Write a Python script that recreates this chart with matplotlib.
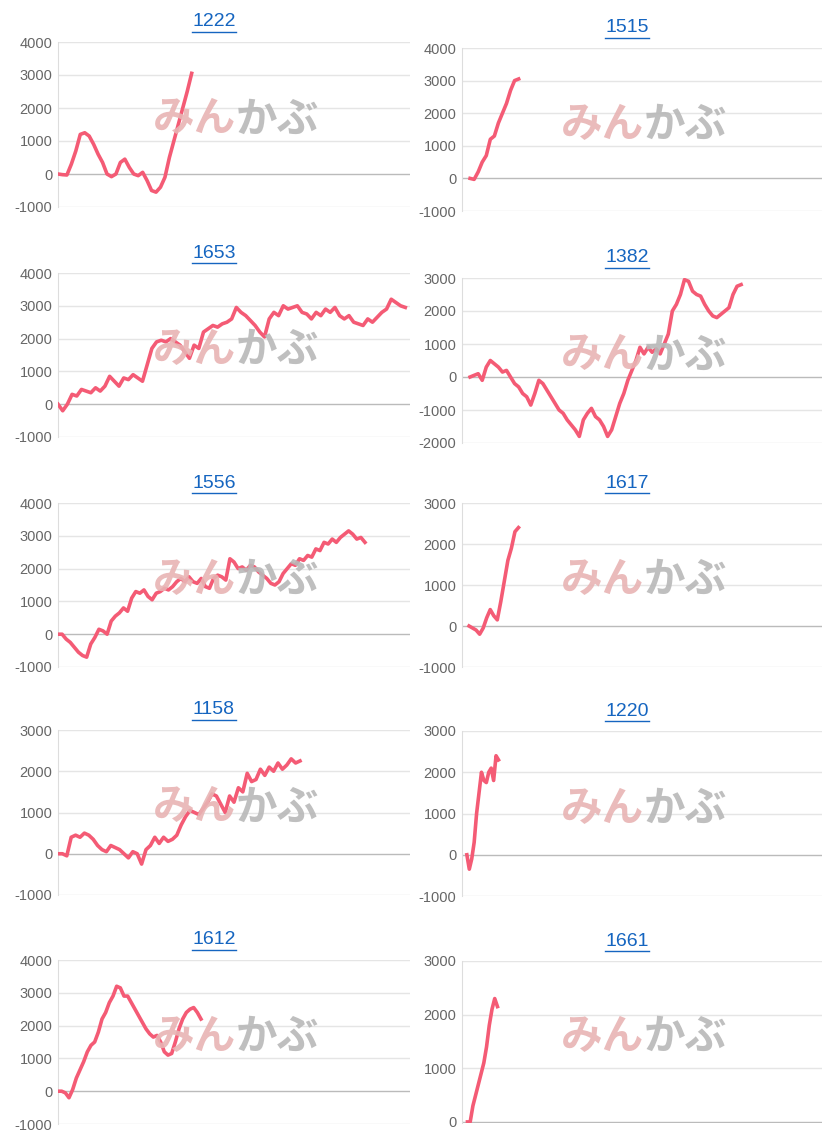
import matplotlib.pyplot as plt

W, H = 824, 1145

titles = ['1222', '1515', '1653', '1382', '1556', '1617', '1158', '1220', '1612', '1661']

s1222 = [0, -20, -30, 300, 700, 1200, 1250, 1150, 900, 600, 350, 0, -80, 0, 350, 450, 200, 0,
         -50, 50, -200, -500, -550, -400, -100, 500, 1000, 1500, 2000, 2500, 3050]
s1515 = [0, -30, 200, 500, 700, 1200, 1300, 1700, 2000, 2300, 2700, 3000, 3050]
s1653 = [0, -200, 0, 300, 250, 450, 400, 350, 500, 400, 550, 850, 700, 550, 800, 750, 900, 800,
         700, 1200, 1700, 1900, 1950, 1900, 2000, 1900, 1800, 1600, 1400, 1800, 1700, 2200, 2300,
         2400, 2350, 2450, 2500, 2600, 2950, 2800, 2700, 2550, 2400, 2200, 2050, 2600, 2800, 2700,
         3000, 2900, 2950, 3000, 2800, 2750, 2600, 2800, 2700, 2900, 2800, 2950, 2700, 2600, 2700,
         2500, 2450, 2400, 2600, 2500, 2650, 2800, 2900, 3200, 3100, 3000, 2950]
s1382 = [0, 50, 100, -100, 300, 500, 400, 300, 150, 200, 0, -200, -300, -500, -600, -850, -500,
         -100, -200, -400, -600, -800, -1000, -1100, -1300, -1450, -1600, -1800, -1300, -1100,
         -950, -1200, -1300, -1500, -1800, -1600, -1200, -800, -500, -100, 200, 500, 900, 700, 900,
         750, 850, 700, 1000, 1300, 2000, 2200, 2500, 2950, 2900, 2600, 2500, 2450, 2200, 2000,
         1850, 1800, 1900, 2000, 2100, 2500, 2750, 2800]
s1556 = [0, 0, -150, -250, -400, -550, -650, -700, -300, -100, 150, 100, 0, 400, 550, 650, 800,
         700, 1100, 1300, 1250, 1350, 1150, 1050, 1250, 1300, 1400, 1350, 1450, 1600, 1700, 1600,
         1750, 1600, 1550, 1700, 1450, 1400, 1700, 1800, 1750, 1650, 2300, 2200, 2000, 2050, 1950,
         2100, 2050, 1900, 1800, 1700, 1550, 1500, 1600, 1850, 2000, 2150, 2100, 2300, 2250, 2400,
         2350, 2600, 2550, 2800, 2750, 2900, 2800, 2950, 3050, 3150, 3050, 2900, 2950, 2800]
s1617 = [0, -50, -100, -200, -50, 200, 400, 250, 150, 600, 1100, 1600, 1900, 2300, 2400]
s1158 = [0, 0, -50, 400, 450, 400, 500, 450, 350, 200, 100, 50, 200, 150, 100, 0, -100, 50, 0,
         -250, 100, 200, 400, 250, 400, 300, 350, 450, 700, 900, 1050, 1000, 950, 1100, 1250, 1450,
         1400, 1200, 1000, 1400, 1250, 1600, 1500, 1950, 1750, 1800, 2050, 1900, 2100, 2000, 2200,
         2050, 2150, 2300, 2200, 2250]
s1220 = [0, -350, -100, 300, 1000, 1500, 2000, 1800, 1750, 2000, 2100, 1800, 2400, 2300]
s1612 = [0, 0, -50, -200, 50, 400, 650, 900, 1200, 1400, 1500, 1800, 2200, 2400, 2700, 2900,
         3200, 3150, 2900, 2900, 2700, 2500, 2300, 2100, 1900, 1750, 1650, 1700, 1500, 1200, 1100,
         1150, 1500, 1900, 2200, 2400, 2500, 2550, 2400, 2200]
s1661 = [0, 0, 300, 500, 700, 900, 1100, 1400, 1800, 2100, 2300, 2150]

series = [s1222, s1515, s1653, s1382, s1556, s1617, s1158, s1220, s1612, s1661]
ylims = [(-1000, 4000), (-1000, 4000), (-1000, 4000), (-2000, 3000), (-1000, 4000),
         (-1000, 3000), (-1000, 3000), (-1000, 3000), (-1000, 4000), (0, 3000)]
xmaxs = [79, 87, 75, 87, 86, 100, 80, 146, 96, 130]
# axes boxes in pixels: left, top, right, bottom
boxes = [(58, 42, 410, 207), (462, 48, 822, 211),
         (58, 273, 410, 437), (462, 278, 822, 443),
         (58, 503, 410, 667), (462, 503, 822, 667),
         (58, 730, 410, 895), (462, 731, 822, 896),
         (58, 960, 410, 1124), (462, 961, 822, 1123)]

plt.rcParams['font.family'] = ['Noto Sans CJK JP', 'DejaVu Sans']
fig = plt.figure(figsize=(W / 100, H / 100), dpi=100)

for i in range(10):
    l, t, r, b = boxes[i]
    ax = fig.add_axes([l / W, 1 - b / H, (r - l) / W, (b - t) / H])
    lo, hi = ylims[i]
    ticks = list(range(lo, hi + 1, 1000))
    ax.set_ylim(lo - (20 if lo == 0 else 0), hi)
    ax.set_yticks(ticks)
    ax.set_yticklabels([str(v) for v in ticks], color='#666666', fontsize=10.5,
                       family='Liberation Sans')
    ax.set_xlim(-2 if i % 2 else 0, xmaxs[i])
    ax.set_xticks([])
    for v in ticks:
        ax.axhline(v, color='#bbbbbb' if v == 0 else '#e5e5e5', lw=1, zorder=0)
    for sp in ['top', 'right', 'bottom']:
        ax.spines[sp].set_visible(False)
    ax.spines['left'].set_color('#dddddd')
    ax.tick_params(axis='y', length=0, pad=4)
    # watermark
    cx = (l + r) / 2 + 2
    cy = (t + b) / 2 - 5
    fig.text(cx / W, 1 - cy / H, 'みん', color='#e8b4b4', fontsize=30, fontweight='bold',
             style='italic', ha='right', va='center', alpha=0.9)
    fig.text(cx / W, 1 - cy / H, 'かぶ', color='#b8b8b8', fontsize=30, fontweight='bold',
             style='italic', ha='left', va='center', alpha=0.9)
    ax.plot(range(len(series[i])), series[i], color='#f45b75', lw=2.6, zorder=3)
    tx = (l + r) / 2 - 20 if i % 2 == 0 else (l + r) / 2 - 15
    ty = t - 20
    fig.text(tx / W, 1 - ty / H, titles[i], color='#1565c0', fontsize=14,
             ha='center', va='center', family='Liberation Sans')
    fig.add_artist(plt.Line2D([(tx - 22) / W, (tx + 22) / W], [1 - (ty + 10) / H] * 2,
                              color='#1565c0', lw=1))

fig.savefig('out.png', dpi=100)
